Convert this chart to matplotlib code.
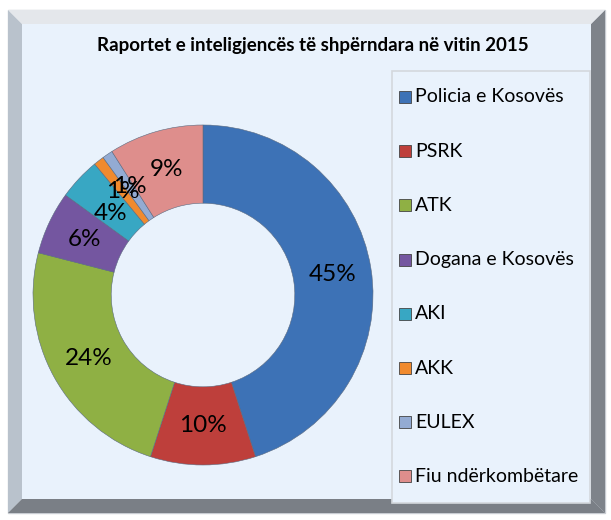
import matplotlib
matplotlib.use("Agg")
import matplotlib.pyplot as plt
from matplotlib.patches import Rectangle, Polygon

plt.rcParams['font.family'] = ['Lato', 'DejaVu Sans']

title = "Raportet e inteligjencës të shpërndara në vitin 2015"
categories = ["Policia e Kosovës", "PSRK", "ATK", "Dogana e Kosovës",
              "AKI", "AKK", "EULEX", "Fiu ndërkombëtare"]
values = [45, 10, 24, 6, 4, 1, 1, 9]
colors = ["#3D72B6", "#BE3F3B", "#8FB044", "#7456A0",
          "#38A7C3", "#F08A2E", "#93ABD3", "#DE8E8C"]

W, H = 611, 520
fig = plt.figure(figsize=(W / 100, H / 100), dpi=100)
fig.patch.set_facecolor("white")

# background frame (bevel)
bg = fig.add_axes([0, 0, 1, 1])
bg.set_xlim(0, W)
bg.set_ylim(H, 0)
bg.axis("off")
x0, y0, x1, y1 = 8, 10, 605, 513
b = 14
bg.add_patch(Rectangle((x0, y0), x1 - x0, y1 - y0, facecolor="#DADFE6", edgecolor="#C8CCD2", lw=1))
bg.add_patch(Polygon([(x0, y0), (x0 + b, y0 + b), (x0 + b, y1 - b), (x0, y1)], facecolor="#B9C2CC", edgecolor="none"))
bg.add_patch(Polygon([(x1, y0), (x1 - b, y0 + b), (x1 - b, y1 - b), (x1, y1)], facecolor="#7E838A", edgecolor="none"))
bg.add_patch(Polygon([(x0, y1), (x0 + b, y1 - b), (x1 - b, y1 - b), (x1, y1)], facecolor="#7A7F86", edgecolor="none"))
bg.add_patch(Polygon([(x0, y0), (x0 + b, y0 + b), (x1 - b, y0 + b), (x1, y0)], facecolor="#E4E7EB", edgecolor="none"))
bg.add_patch(Rectangle((x0 + b, y0 + b), x1 - x0 - 2 * b, y1 - y0 - 2 * b, facecolor="#E9F2FC", edgecolor="none"))
# legend box
bg.add_patch(Rectangle((392, 71), 198, 432, facecolor="#E9F2FC", edgecolor="#D4D8DD", lw=1.2))

bg.text(313, 46, title, ha="center", va="center", fontsize=13.5, fontweight="bold", color="black")

# donut
cx, cy, R = 203, 295, 170
ax = fig.add_axes([(cx - R) / W, (H - cy - R) / H, 2 * R / W, 2 * R / H])
wedges, texts, autotexts = ax.pie(
    values, colors=colors, startangle=90, counterclock=False,
    wedgeprops=dict(width=0.46, edgecolor="#5A6A80", linewidth=0.4),
    autopct=lambda p: f"{p:.0f}%", pctdistance=0.77,
    textprops=dict(fontsize=17.5, color="black"))
ax.set_xlim(-1, 1)
ax.set_ylim(-1, 1)
ax.set_aspect("equal")
ax.axis("off")
# nudge the AKI label slightly down, as in the reference
px, py = autotexts[4].get_position()
autotexts[4].set_position((px + 0.02, py - 0.05))

# legend
for i, (lab, col) in enumerate(zip(categories, colors)):
    y = 97 + i * 54.2
    bg.add_patch(Rectangle((399, y - 6), 12, 12, facecolor=col, edgecolor="#444444", lw=0.6))
    bg.text(415, y, lab, ha="left", va="center", fontsize=14, color="black")

fig.savefig("out.png", dpi=100)
